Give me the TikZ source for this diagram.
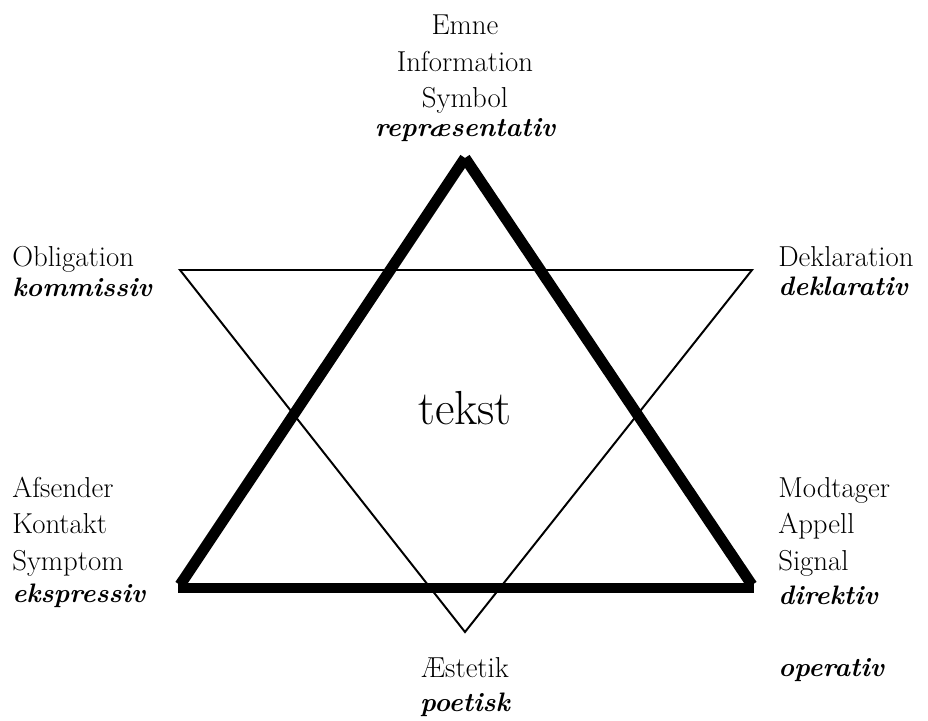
\documentclass[tikz,border=0pt]{standalone}
\usepackage{tikz}
\usepackage{amsmath}

\tikzset{
    word/.style={inner sep=0pt, font=\fontsize{20.5}{24}\selectfont},
    role/.style={inner sep=0pt, font=\fontsize{19}{22}\selectfont\bfseries\itshape},
    thickside/.style={black, line width=7.8pt, line cap=butt},
    thinside/.style={black, line width=1.4pt, line join=miter}
}

\begin{document}
\begin{tikzpicture}
    \useasboundingbox (0,0) rectangle (23.2,18);
    % Corners of the two triangles.
        \coordinate (top) at (11.625, 14.05);
        \coordinate (left) at (4.5, 3.375);
        \coordinate (right) at (18.8, 3.375);
        \coordinate (baseL) at (4.45, 3.3);
        \coordinate (baseR) at (18.85, 3.3);
        \coordinate (tl) at (4.5, 11.25);
        \coordinate (tr) at (18.8, 11.25);
        \coordinate (bot) at (11.625, 2.2);
    % The thin triangle, point down.
        \draw[thinside] (tl) -- (tr) -- (bot) -- cycle;
    % The thick triangle, point up.
        \draw[thickside] (left) -- (top);
        \draw[thickside] (right) -- (top);
        \draw[thickside] (baseL) -- (baseR);
    % Centre label.
        \node[inner sep=0pt, font=\fontsize{34}{40}\selectfont, anchor=base] (tekst) at (11.625, 7.375) {tekst};
    % Below nodes are the labels at the top.
        \node[word, anchor=base] (emne) at (11.625, 17.125) {Emne};
        \node[word, anchor=base] (information) at (11.625, 16.2) {Information};
        \node[word, anchor=base] (symbol) at (11.625, 15.3) {Symbol};
        \node[role, anchor=base] (repr) at (11.625, 14.575) {repræsentativ};
    % Labels on the left.
        \node[word, anchor=base west] (obligation) at (0.3, 11.325) {Obligation};
        \node[role, anchor=base west] (kommissiv) at (0.3, 10.575) {kommissiv};
        \node[word, anchor=base west] (afsender) at (0.3, 5.575) {Afsender};
        \node[word, anchor=base west] (kontakt) at (0.3, 4.675) {Kontakt};
        \node[word, anchor=base west] (symptom) at (0.3, 3.75) {Symptom};
        \node[role, anchor=base west] (ekspressiv) at (0.3, 2.95) {ekspressiv};
    % Labels on the right.
        \node[word, anchor=base west] (deklaration) at (19.45, 11.325) {Deklaration};
        \node[role, anchor=base west] (deklarativ) at (19.45, 10.6) {deklarativ};
        \node[word, anchor=base west] (modtager) at (19.45, 5.575) {Modtager};
        \node[word, anchor=base west] (appell) at (19.45, 4.675) {Appell};
        \node[word, anchor=base west] (signal) at (19.45, 3.75) {Signal};
        \node[role, anchor=base west] (direktiv) at (19.45, 2.9) {direktiv};
        \node[role, anchor=base west] (operativ) at (19.45, 1.1) {operativ};
    % Labels at the bottom.
        \node[word, anchor=base] (aestetik) at (11.625, 1.075) {Æstetik};
        \node[role, anchor=base] (poetisk) at (11.625, 0.225) {poetisk};
    \end{tikzpicture}
\end{document}
